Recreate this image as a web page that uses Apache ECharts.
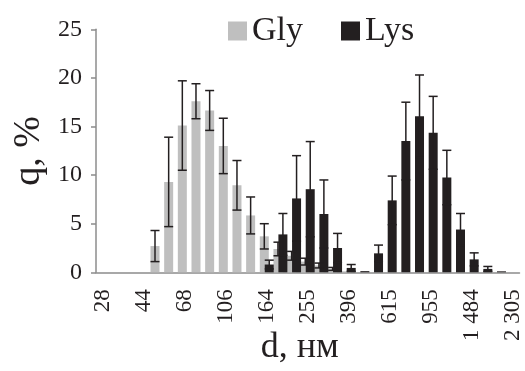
<!DOCTYPE html>
<html>
<head>
<meta charset="utf-8">
<script src="https://cdn.jsdelivr.net/npm/echarts@6/dist/echarts.min.js"></script>
<style>
  html, body { margin: 0; padding: 0; background: #fff; }
  #chart { width: 525px; height: 371px; }
</style>
</head>
<body>
<div id="chart"></div>
<script>
// size classes, nm (labels shown every 3rd)
const cats = [
  "28", "33", "38", "44", "51", "59", "68", "79", "91", "106",
  "123", "142", "164", "190", "220", "255", "295", "342", "396", "459",
  "531", "615", "712", "825", "955", "1106", "1281", "1 484", "1719", "1991",
  "2 305",
];
const gly = [
  0, 0, 0, 0, 2.7, 9.3, 15.1, 17.6, 16.65, 13.0,
  8.95, 5.85, 3.7, 2.4, 1.7, 1.1, 0.7, 0.35, 0.1, 0,
  0, 0, 0, 0, 0, 0, 0, 0, 0, 0,
  0,
];
const glyErr = [
  0, 0, 0, 0, 1.6, 4.6, 4.6, 1.8, 2.05, 2.85,
  2.55, 1.9, 1.3, 0.7, 0.45, 0.35, 0.25, 0.15, 0, 0,
  0, 0, 0, 0, 0, 0, 0, 0, 0, 0,
  0,
];
const lys = [
  0, 0, 0, 0, 0, 0, 0, 0, 0, 0,
  0, 0, 0.8, 3.9, 7.6, 8.55, 6.0, 2.5, 0.45, 0.12,
  1.95, 7.4, 13.5, 16.05, 14.35, 9.75, 4.4, 1.33, 0.35, 0.1,
  0,
];
const lysErr = [
  0, 0, 0, 0, 0, 0, 0, 0, 0, 0,
  0, 0, 0.45, 2.15, 4.4, 4.9, 3.5, 1.5, 0.35, 0,
  0.85, 2.5, 4.0, 4.25, 3.75, 2.8, 1.65, 0.67, 0.25, 0,
  0,
];

const font = "Liberation Serif";
const ink = "#231f20";
const axisGray = "#8c8c8c";
const barW = 9;
const overlap = 0.45;
const shift = (barW * (1 - overlap)) / 2;

function errData(vals, errs) {
  return vals.map((v, i) => [i, v, errs[i]]);
}

function errSeries(vals, errs, dx) {
  return {
    type: "custom",
    z: 5,
    data: errData(vals, errs),
    renderItem(params, api) {
      const e = api.value(2);
      if (!e) return;
      const i = api.value(0);
      const v = api.value(1);
      const top = api.coord([i, v + e]);
      const bot = api.coord([i, Math.max(0, v - e)]);
      const x = top[0] + dx;
      const cap = 4.5;
      const style = { stroke: ink, lineWidth: 1.5 };
      return {
        type: "group",
        children: [
          { type: "line", shape: { x1: x, y1: top[1], x2: x, y2: bot[1] }, style },
          { type: "line", shape: { x1: x - cap, y1: top[1], x2: x + cap, y2: top[1] }, style },
          { type: "line", shape: { x1: x - cap, y1: bot[1], x2: x + cap, y2: bot[1] }, style },
        ],
      };
    },
  };
}

const chart = echarts.init(document.getElementById("chart"));
chart.setOption({
  animation: false,
  textStyle: { fontFamily: font, color: ink },
  grid: { left: 96, right: 5.5, top: 29.3, bottom: 98.7, outerBoundsMode: "none" },
  legend: {
    data: ["Gly", "Lys"],
    left: 223,
    top: 9,
    icon: "rect",
    itemWidth: 19,
    itemHeight: 19,
    itemGap: 38,
    textStyle: { fontFamily: font, fontSize: 34, color: ink },
  },
  xAxis: {
    type: "category",
    data: cats,
    name: "d, нм",
    nameLocation: "middle",
    nameGap: 57,
    nameMoveOverlap: false,
    nameTextStyle: { fontFamily: font, fontSize: 36, color: ink, padding: [0, 16, 0, 0] },
    axisLine: { lineStyle: { color: axisGray, width: 1.5 } },
    axisTick: { interval: 0, length: 5, lineStyle: { color: axisGray, width: 1.5 } },
    axisLabel: {
      interval: 2,
      rotate: 90,
      margin: 17,
      fontFamily: font,
      fontSize: 23,
      color: ink,
    },
  },
  yAxis: {
    type: "value",
    min: 0,
    max: 25,
    interval: 5,
    name: "q, %",
    nameLocation: "middle",
    nameGap: 48,
    nameMoveOverlap: false,
    nameTextStyle: { fontFamily: font, fontSize: 38, color: ink },
    splitLine: { show: false },
    axisLine: { show: true, lineStyle: { color: axisGray, width: 1.5 } },
    axisTick: { show: true, length: 5, lineStyle: { color: axisGray, width: 1.5 } },
    axisLabel: { margin: 14, fontFamily: font, fontSize: 24, color: ink },
  },
  series: [
    {
      name: "Gly",
      type: "bar",
      barWidth: barW,
      barGap: "-" + overlap * 100 + "%",
      itemStyle: { color: "#bfbfbf" },
      data: gly,
    },
    {
      name: "Lys",
      type: "bar",
      barWidth: barW,
      itemStyle: { color: ink },
      data: lys,
    },
    errSeries(gly, glyErr, -shift),
    errSeries(lys, lysErr, shift),
  ],
});
</script>
</body>
</html>
